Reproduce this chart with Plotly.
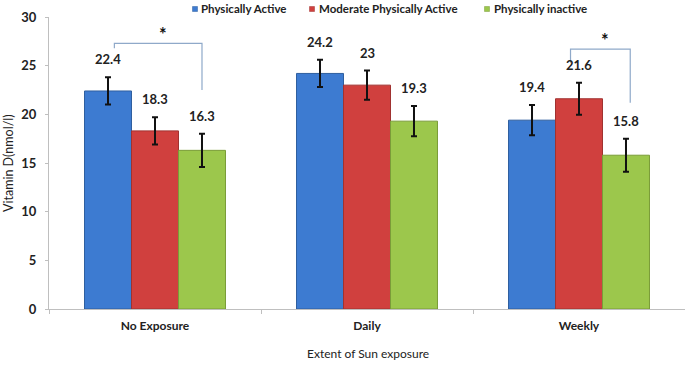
import plotly.graph_objects as go

categories = ["No Exposure", "Daily", "Weekly"]
series_names = ["Physically Active", "Moderate Physically Active", "Physically inactive"]
active = [22.4, 24.2, 19.4]
moderate = [18.3, 23.0, 21.6]
inactive = [16.3, 19.3, 15.8]
active_err = [1.4, 1.4, 1.55]
moderate_err = [1.4, 1.5, 1.65]
inactive_err = [1.7, 1.55, 1.7]
value_labels = [["22.4", "24.2", "19.4"], ["18.3", "23", "21.6"], ["16.3", "19.3", "15.8"]]

values = [active, moderate, inactive]
errors = [active_err, moderate_err, inactive_err]
fills = ["#3d7bd1", "#d0403e", "#9cc74c"]
lines = ["#2f5f9f", "#a03230", "#7a9c38"]

FONT = "Lato"
W, H = 685, 367
ML, MR, MT, MB = 49, 0, 17, 58
PW = W - ML - MR
PH = H - MT - MB
BARGAP = 0.335
bw = (1 - BARGAP) / 3  # bar width in category units

fig = go.Figure()
for i in range(3):
    fig.add_trace(go.Bar(
        x=categories, y=values[i], name=series_names[i],
        marker=dict(color=fills[i], line=dict(color=lines[i], width=1)),
        error_y=dict(type="data", array=errors[i], color="#111111", thickness=2, width=3),
        showlegend=False,
    ))

def px_x(p):
    return (p - ML) / PW

def px_y(p):
    return (H - MB - p) / PH

annotations = []
# value labels above error bars
for i in range(3):
    for j in range(3):
        annotations.append(dict(
            x=j + (i - 1) * bw, y=values[i][j] + errors[i][j], xref="x", yref="y",
            text=value_labels[i][j], showarrow=False, yanchor="bottom", yshift=8,
            font=dict(family=FONT, size=13, color="#222222", weight="bold"),
        ))

# significance brackets
bracket_color = "#8fa9c9"
brackets = [
    # (left x, right x, top, left leg bottom, right leg bottom)
    (0 - bw + 0.03, 0 + bw, 27.3, 26.8, 22.5),
    (2 - 0.04, 2 + bw + 0.02, 26.7, 25.3, 21.2),
]
shapes = []
for (x0, x1, top, lb, rb) in brackets:
    shapes.append(dict(type="path", xref="x", yref="y",
                       path=f"M {x0},{lb} L {x0},{top} L {x1},{top} L {x1},{rb}",
                       line=dict(color=bracket_color, width=1.2)))
    annotations.append(dict(x=(x0 + x1) / 2, y=top, xref="x", yref="y", text="*",
                            showarrow=False, yanchor="bottom", yshift=-4, xshift=5,
                            font=dict(family=FONT, size=18, color="#111111", weight="bold")))

# legend (manual)
leg_sq = [195, 312, 487]
leg_tx = [199, 317, 492]
leg_y = 9
for i in range(3):
    s = 5
    shapes.append(dict(type="rect", xref="paper", yref="paper",
                       x0=px_x(leg_sq[i] - s / 2), x1=px_x(leg_sq[i] + s / 2),
                       y0=px_y(leg_y + s / 2), y1=px_y(leg_y - s / 2),
                       fillcolor=fills[i], line=dict(color=lines[i], width=0.5)))
    annotations.append(dict(x=px_x(leg_tx[i]), y=px_y(leg_y), xref="paper", yref="paper",
                            text=series_names[i], showarrow=False, xanchor="left", yanchor="middle",
                            font=dict(family=FONT, size=11.5, color="#222222", weight="bold")))

# axis titles
annotations.append(dict(x=px_x(8), y=0.5, xref="paper", yref="paper", text="Vitamin D(nmol/l)",
                        textangle=-90, showarrow=False, xanchor="center", yanchor="middle",
                        font=dict(family=FONT, size=12.5, color="#222222")))
annotations.append(dict(x=px_x(368), y=px_y(353), xref="paper", yref="paper", text="Extent of Sun exposure",
                        showarrow=False, xanchor="center", yanchor="middle",
                        font=dict(family=FONT, size=12, color="#222222")))

fig.update_layout(
    width=W, height=H,
    margin=dict(l=ML, r=MR, t=MT, b=MB),
    paper_bgcolor="white", plot_bgcolor="white",
    barmode="group", bargap=BARGAP, bargroupgap=0,
    showlegend=False,
    shapes=shapes, annotations=annotations,
    xaxis=dict(showline=True, linecolor="#bfbfbf", linewidth=1, ticks="outside", ticklen=4,
               tickcolor="#bfbfbf", tickson="boundaries", showgrid=False, zeroline=False,
               tickfont=dict(family=FONT, size=12, color="#222222", weight="bold"),
               ticklabelstandoff=6),
    yaxis=dict(range=[0, 30], dtick=5, showline=True, linecolor="#bfbfbf", linewidth=1,
               ticks="outside", ticklen=3, tickcolor="#bfbfbf", showgrid=False, zeroline=False,
               tickfont=dict(family=FONT, size=13, color="#222222", weight="bold"),
               ticklabelstandoff=6),
)

fig.write_html("out.html", config={"displayModeBar": False},
               post_script="document.body.style.margin='0';document.body.style.padding='0';")
